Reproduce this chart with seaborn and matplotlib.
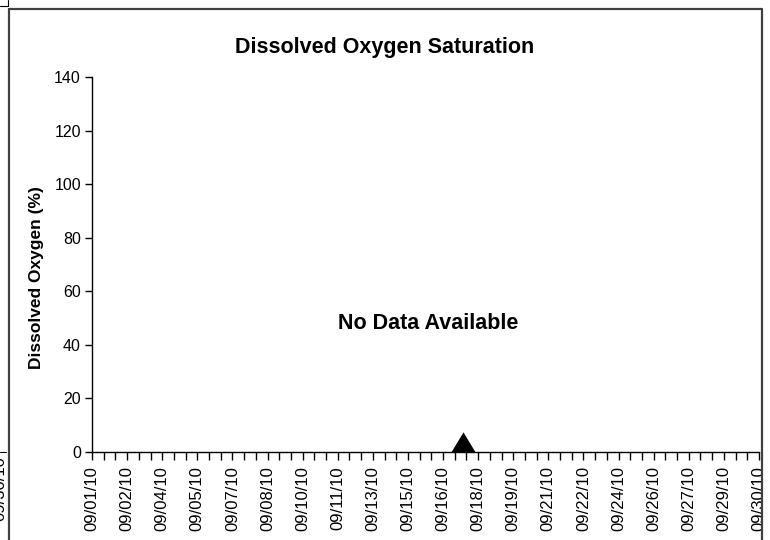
import matplotlib
matplotlib.use('Agg')
import matplotlib.pyplot as plt
import matplotlib.dates as mdates
from matplotlib.lines import Line2D
from matplotlib.patches import Rectangle
import seaborn as sns
import pandas as pd
import numpy as np

# data
tick_labels = ['09/01/10', '09/02/10', '09/04/10', '09/05/10', '09/07/10',
               '09/08/10', '09/10/10', '09/11/10', '09/13/10', '09/15/10',
               '09/16/10', '09/18/10', '09/19/10', '09/21/10', '09/22/10',
               '09/24/10', '09/26/10', '09/27/10', '09/29/10', '09/30/10']
start_date = '2010-09-01'
end_date = '2010-09-30'
marker_dates = ['2010-09-17 03:00']
marker_values = [0]
y_ticks = [0, 20, 40, 60, 80, 100, 120, 140]

sns.set_theme(style='ticks')
plt.rcParams['font.family'] = ['Liberation Sans', 'DejaVu Sans']
plt.rcParams['text.color'] = 'black'
plt.rcParams['xtick.color'] = 'black'
plt.rcParams['ytick.color'] = 'black'
plt.rcParams['axes.labelcolor'] = 'black'

W, H = 770, 540
fig = plt.figure(figsize=(7.7, 5.4), dpi=100)
ax = fig.add_axes([92 / W, 1 - 452 / H, (759 - 92) / W, (452 - 77) / H])

df = pd.DataFrame({'date': mdates.date2num(pd.to_datetime(marker_dates)),
                   'value': marker_values})
tri = [(-1, 0), (1, 0), (0, 1.66), (-1, 0)]
sns.scatterplot(data=df, x='date', y='value', marker=tri, s=29 ** 2,
                color='black', linewidth=0, clip_on=False, zorder=5, ax=ax)

x0 = mdates.date2num(pd.Timestamp(start_date))
x1 = mdates.date2num(pd.Timestamp(end_date))
ax.set_xlim(x0, x1)
ax.set_ylim(0, 140)
ax.set_xticks(np.linspace(x0, x1, len(tick_labels)))
ax.set_xticklabels(tick_labels, rotation=90, fontsize=12)
ax.set_xticks(np.linspace(x0, x1, 3 * (len(tick_labels) - 1) + 1), minor=True)
ax.set_yticks(y_ticks)
ax.tick_params(axis='y', labelsize=11.5, length=5, width=1, pad=3)
ax.tick_params(axis='x', which='both', length=6, width=1, pad=4)
sns.despine(ax=ax)
for s in ['left', 'bottom']:
    ax.spines[s].set_color('black')
    ax.spines[s].set_linewidth(1)

ax.set_xlabel('')
ax.set_ylabel('')
fig.text(37 / W, 1 - 278 / H, 'Dissolved Oxygen (%)', rotation=90, ha='center',
         va='center', fontsize=12.5, fontweight='bold')
fig.text(385 / W, 1 - 47 / H, 'Dissolved Oxygen Saturation', ha='center',
         va='center', fontsize=15.5, fontweight='bold')
ax.text(0.5037, 48, 'No Data Available', transform=ax.get_yaxis_transform(),
        ha='center', va='center', fontsize=15.5, fontweight='bold')

# outer frame and neighbour fragments
fig.patches.append(Rectangle((763 / W, 0), 7 / W, 1, transform=fig.transFigure,
                             facecolor='white', edgecolor='none', zorder=10))
frame_col = '#404040'
fig.lines.append(Line2D([9 / W, 9 / W], [0, 1 - 9 / H], transform=fig.transFigure,
                        color=frame_col, lw=1.6, zorder=11))
fig.lines.append(Line2D([9 / W, 762 / W], [1 - 9 / H, 1 - 9 / H],
                        transform=fig.transFigure, color=frame_col, lw=1.6, zorder=11))
fig.lines.append(Line2D([762 / W, 762 / W], [0, 1 - 9 / H], transform=fig.transFigure,
                        color=frame_col, lw=1.6, zorder=11))
fig.lines.append(Line2D([0, 8 / W], [1 - 6 / H, 1 - 6 / H], transform=fig.transFigure,
                        color='black', lw=0.8, zorder=11))
fig.lines.append(Line2D([8 / W, 8 / W], [1 - 6 / H, 1], transform=fig.transFigure,
                        color='black', lw=0.8, zorder=11))
fig.lines.append(Line2D([0, 6 / W], [1 - 452 / H, 1 - 452 / H], transform=fig.transFigure,
                        color='black', lw=0.8, zorder=11))
fig.text(7 / W, 1 - 456 / H, '09/30/10', rotation=90, ha='right', va='top', fontsize=12)

fig.savefig('out.png', dpi=100)
